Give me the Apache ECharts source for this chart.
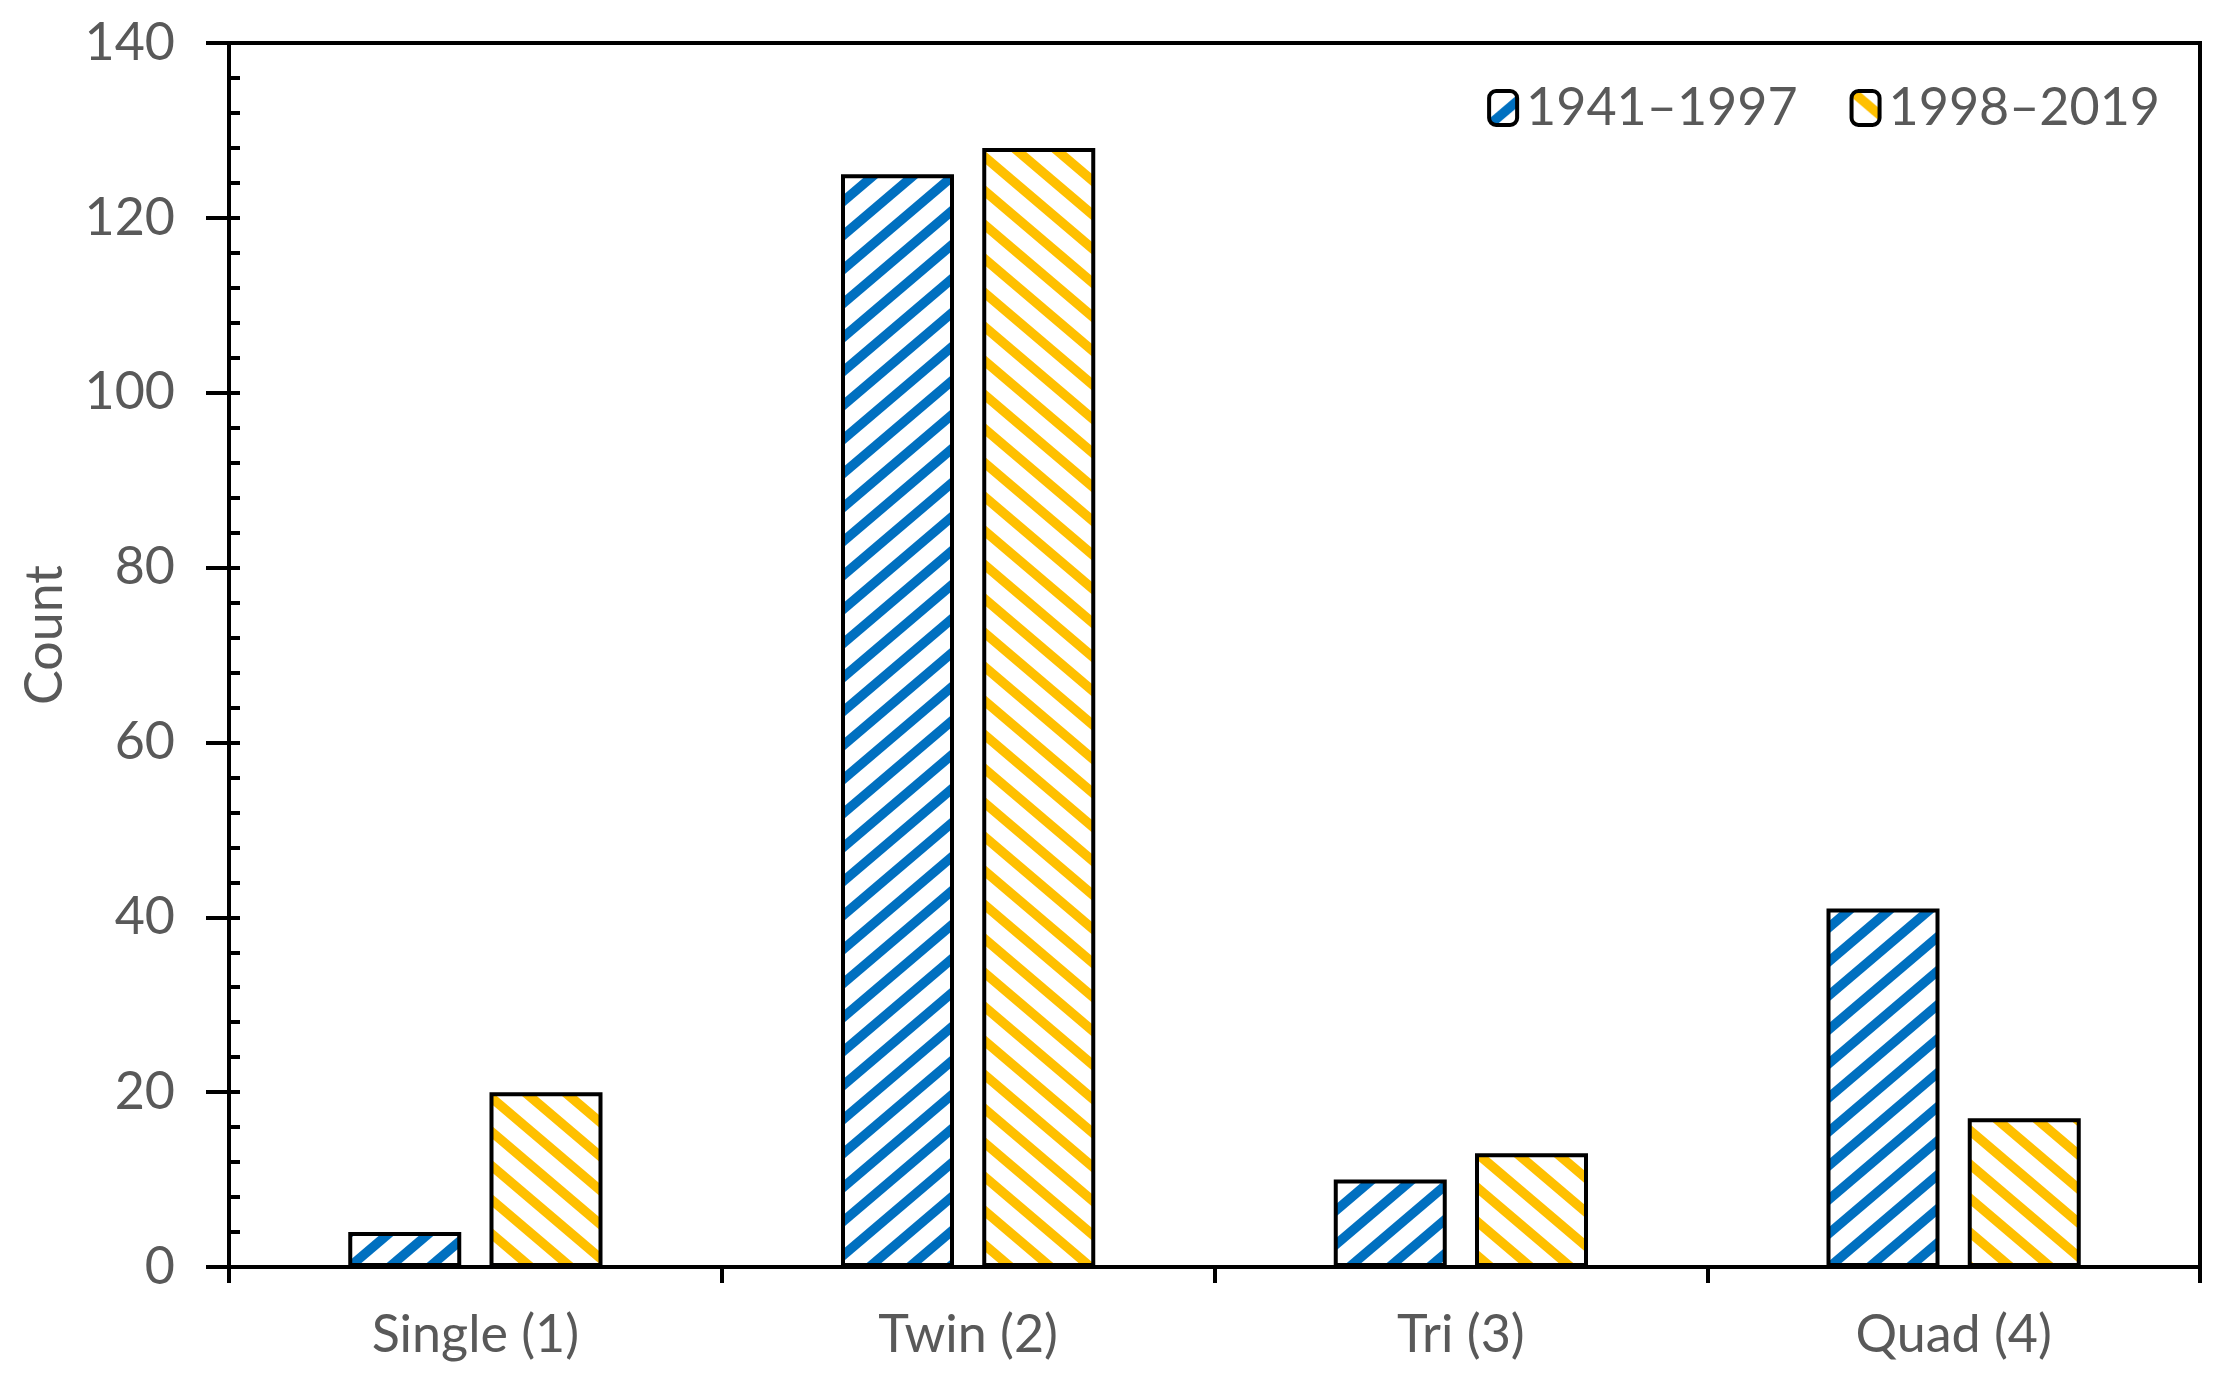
<!DOCTYPE html>
<html>
<head>
<meta charset="utf-8">
<script src="https://cdn.jsdelivr.net/npm/echarts@6/dist/echarts.min.js"></script>
<style>
html,body{margin:0;padding:0;background:#fff;}
#chart{width:2219px;height:1384px;}
</style>
</head>
<body>
<div id="chart"></div>
<script>
const categories = ['Single (1)', 'Twin (2)', 'Tri (3)', 'Quad (4)'];
const seriesNames = ['1941–1997', '1998–2019'];
const values1941 = [4, 125, 10, 41];
const values1998 = [20, 128, 13, 17];
const yMin = 0, yMax = 140, yStep = 20;

const FONT = 'Lato';
const GRAY = '#595959';

function stripes(color, up) {
  const W = 40, H = 34;
  const c = document.createElement('canvas');
  c.width = W; c.height = H;
  const g = c.getContext('2d');
  g.fillStyle = '#ffffff';
  g.fillRect(0, 0, W, H);
  g.strokeStyle = color;
  g.lineWidth = 9.5;
  g.lineCap = 'square';
  for (let k = -2; k <= 2; k++) {
    g.beginPath();
    if (up) {
      g.moveTo((k - 1) * W, 2 * H); g.lineTo((k + 2) * W, -H);
    } else {
      g.moveTo((k - 1) * W, -H); g.lineTo((k + 2) * W, 2 * H);
    }
    g.stroke();
  }
  return { image: c, repeat: 'repeat' };
}

const chart = echarts.init(document.getElementById('chart'));
const yCommon = { type: 'value', min: yMin, max: yMax, interval: yStep, position: 'left' };
chart.setOption({
  backgroundColor: '#fff',
  animation: false,
  grid: { left: 229, right: 19, top: 43, bottom: 117, show: true, borderColor: '#000', borderWidth: 4, backgroundColor: 'transparent' },
  legend: {
    right: 54, top: 72, itemWidth: 28, itemHeight: 34, itemGap: 52,
    data: seriesNames,
    itemStyle: { borderColor: '#000', borderWidth: 4 },
    textStyle: { fontFamily: FONT, fontSize: 52, color: GRAY, lineHeight: 62, padding: [0, 0, 0, 4] }
  },
  xAxis: {
    type: 'category', data: categories,
    axisLine: { lineStyle: { color: '#000', width: 4 } },
    axisTick: { show: true, length: 16, lineStyle: { color: '#000', width: 4 } },
    axisLabel: { margin: 42, fontFamily: FONT, fontSize: 52, color: GRAY },
    splitLine: { show: false }
  },
  yAxis: [
    Object.assign({}, yCommon, {
      name: 'Count', nameLocation: 'middle', nameGap: 158,
      nameTextStyle: { fontFamily: FONT, fontSize: 52, color: GRAY, padding: [0, 0, 0, 40] },
      axisLine: { show: true, lineStyle: { color: '#000', width: 4 } },
      axisTick: { show: true, length: 23, lineStyle: { color: '#000', width: 4 } },
      axisLabel: { margin: 54, fontFamily: FONT, fontSize: 52, color: GRAY },
      splitLine: { show: false }
    }),
    Object.assign({}, yCommon, {
      axisLine: { show: false },
      axisTick: { show: true, inside: true, length: 11, lineStyle: { color: '#000', width: 4 } },
      minorTick: { show: true, splitNumber: 5, length: 11, lineStyle: { color: '#000', width: 4 } },
      axisLabel: { show: false },
      splitLine: { show: false }
    })
  ],
  series: [
    {
      name: seriesNames[0], type: 'bar', data: values1941, barWidth: 113, barGap: '25%',
      itemStyle: { color: stripes('#0070C0', true), borderColor: '#000', borderWidth: 4 }
    },
    {
      name: seriesNames[1], type: 'bar', data: values1998, barWidth: 113, barGap: '25%',
      itemStyle: { color: stripes('#FFC000', false), borderColor: '#000', borderWidth: 4 }
    }
  ]
});
</script>
</body>
</html>
